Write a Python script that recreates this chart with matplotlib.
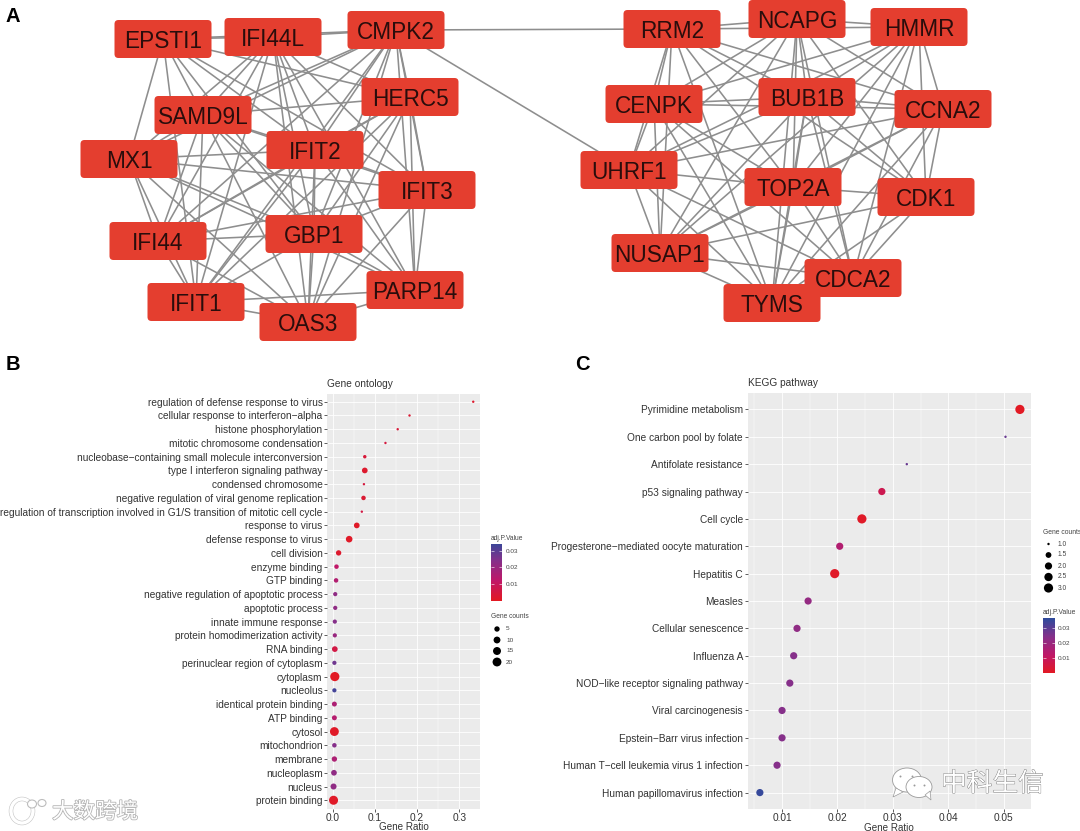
"""Three-panel figure: PPI networks (A), GO dot plot (B), KEGG dot plot (C)."""
from itertools import combinations

import matplotlib

matplotlib.use("Agg")
import matplotlib.pyplot as plt
import numpy as np
from matplotlib.colors import LinearSegmentedColormap
from matplotlib.patches import Ellipse, FancyBboxPatch, Polygon
import matplotlib.patheffects as pe

plt.rcParams["font.family"] = ["Liberation Sans", "DejaVu Sans"]

W, H = 1080, 831

# ---- Panel A: node names and where they sit in the picture ----
left_genes = ["EPSTI1", "IFI44L", "CMPK2", "HERC5", "SAMD9L", "MX1", "IFIT2",
              "IFIT3", "IFI44", "GBP1", "PARP14", "IFIT1", "OAS3"]
left_x = [163, 273, 396, 410, 203, 129, 315, 427, 158, 314, 415, 196, 308]
left_y = [39, 37, 30, 97, 115, 159, 150, 190, 241, 234, 290, 302, 322]

right_genes = ["RRM2", "NCAPG", "HMMR", "CENPK", "BUB1B", "CCNA2", "UHRF1",
               "TOP2A", "CDK1", "NUSAP1", "CDCA2", "TYMS"]
right_x = [672, 797, 919, 654, 807, 943, 629, 793, 926, 660, 853, 772]
right_y = [29, 19, 27, 104, 97, 109, 170, 187, 197, 253, 278, 303]

bridge_edges = [("CMPK2", "RRM2"), ("CMPK2", "UHRF1")]
missing_edges = [("EPSTI1", "OAS3"), ("EPSTI1", "PARP14"), ("EPSTI1", "IFI44"),
                 ("MX1", "HERC5"), ("IFI44", "PARP14"), ("IFIT1", "IFIT3"),
                 ("RRM2", "CDCA2"), ("UHRF1", "CDK1"), ("CENPK", "CDK1")]

# ---- Panel B: gene ontology ----
go_terms = [
    "regulation of defense response to virus",
    "cellular response to interferon\u2212alpha",
    "histone phosphorylation",
    "mitotic chromosome condensation",
    "nucleobase\u2212containing small molecule interconversion",
    "type I interferon signaling pathway",
    "condensed chromosome",
    "negative regulation of viral genome replication",
    "regulation of transcription involved in G1/S transition of mitotic cell cycle",
    "response to virus",
    "defense response to virus",
    "cell division",
    "enzyme binding",
    "GTP binding",
    "negative regulation of apoptotic process",
    "apoptotic process",
    "innate immune response",
    "protein homodimerization activity",
    "RNA binding",
    "perinuclear region of cytoplasm",
    "cytoplasm",
    "nucleolus",
    "identical protein binding",
    "ATP binding",
    "cytosol",
    "mitochondrion",
    "membrane",
    "nucleoplasm",
    "nucleus",
    "protein binding",
]
go_ratio = [0.333, 0.182, 0.154, 0.125, 0.076, 0.076, 0.074, 0.073, 0.069, 0.057,
            0.039, 0.014, 0.009, 0.008, 0.006, 0.006, 0.005, 0.005, 0.005, 0.004,
            0.005, 0.004, 0.004, 0.004, 0.004, 0.004, 0.004, 0.003, 0.002, 0.002]
go_counts = [1, 1, 1, 1, 1.5, 6, 1, 3, 1, 6,
             9, 5, 3, 3, 2.5, 2.5, 2.5, 2.5, 6, 2.5,
             22, 2.5, 4, 4, 20, 3, 5, 6, 7, 21]
go_padj = [0.002, 0.003, 0.004, 0.005, 0.004, 0.002, 0.005, 0.003, 0.006, 0.001,
           0.001, 0.002, 0.012, 0.015, 0.022, 0.022, 0.024, 0.020, 0.006, 0.027,
           0.0005, 0.033, 0.016, 0.014, 0.001, 0.024, 0.016, 0.022, 0.022, 0.001]
go_ticks = [0.0, 0.1, 0.2, 0.3]
go_minor = [0.05, 0.15, 0.25, 0.35]

# ---- Panel C: KEGG ----
kegg_terms = [
    "Pyrimidine metabolism",
    "One carbon pool by folate",
    "Antifolate resistance",
    "p53 signaling pathway",
    "Cell cycle",
    "Progesterone\u2212mediated oocyte maturation",
    "Hepatitis C",
    "Measles",
    "Cellular senescence",
    "Influenza A",
    "NOD\u2212like receptor signaling pathway",
    "Viral carcinogenesis",
    "Epstein\u2212Barr virus infection",
    "Human T\u2212cell leukemia virus 1 infection",
    "Human papillomavirus infection",
]
kegg_ratio = [0.0529, 0.0503, 0.0325, 0.0280, 0.0244, 0.0204, 0.0195, 0.0147,
              0.0127, 0.0121, 0.0114, 0.0100, 0.0100, 0.0091, 0.0060]
kegg_counts = [3, 1, 1, 2, 3, 2, 3, 2, 2, 2, 2, 2, 2, 2, 2]
kegg_padj = [0.0005, 0.028, 0.028, 0.008, 0.001, 0.015, 0.001, 0.021,
             0.022, 0.024, 0.024, 0.024, 0.024, 0.024, 0.035]
kegg_ticks = [0.01, 0.02, 0.03, 0.04, 0.05]
kegg_minor = [0.005, 0.015, 0.025, 0.035, 0.045, 0.055]

# ---- Legends ----
go_legend_counts = [5, 10, 15, 20]
kegg_legend_counts = [1.0, 1.5, 2.0, 2.5, 3.0]
go_cbar_ticks = [0.01, 0.02, 0.03]
kegg_cbar_ticks = [0.01, 0.02, 0.03]

padj_cmap = LinearSegmentedColormap.from_list(
    "padj", ["#E31A22", "#C01868", "#86308A", "#2F4B9C"]
)
PADJ_MAX = 0.036


def axes_px(fig, x0, y0, x1, y1):
    return fig.add_axes([x0 / W, 1 - y1 / H, (x1 - x0) / W, (y1 - y0) / H])


def dot_area(counts, top):
    # ggplot style area scale, pixel diameters turned into points^2
    counts = np.asarray(counts, dtype=float)
    diameter = 2.4 + 6.8 * np.sqrt((counts - 1) / (top - 1))
    return (diameter * 0.72) ** 2


def dot_panel(fig, box, terms, ratio, counts, padj, ticks, minor, xlim, top, title):
    ax = axes_px(fig, *box)
    ax.set_facecolor("#EBEBEB")
    y = np.arange(len(terms))[::-1]
    ax.scatter(ratio, y, s=dot_area(counts, top), c=padj, cmap=padj_cmap,
               vmin=0, vmax=PADJ_MAX, linewidths=0, zorder=3)
    ax.set_xlim(*xlim)
    ax.set_ylim(-0.6, len(terms) - 0.4)
    ax.set_yticks(y)
    ax.set_yticklabels(terms)
    ax.set_xticks(ticks)
    ax.set_xticklabels([f"{t:g}" if t else "0.0" for t in ticks])
    ax.set_xticks([m for m in minor if xlim[0] < m < xlim[1]], minor=True)
    ax.grid(True, which="major", color="white", linewidth=0.6, zorder=1)
    ax.grid(True, which="minor", axis="x", color="white", linewidth=0.3, zorder=1)
    ax.tick_params(axis="both", which="major", length=2, width=0.6, color="#444444",
                   labelcolor="#333333", labelsize=7.3, pad=1.2)
    ax.tick_params(axis="x", which="minor", length=0)
    for spine in ax.spines.values():
        spine.set_visible(False)
    ax.set_axisbelow(True)
    ax.set_xlabel("Gene Ratio", fontsize=7.1, color="#333333", labelpad=0)
    ax.xaxis.set_label_coords(0.5, -0.0325)
    ax.set_title(title, loc="left", fontsize=7.3, color="#333333", pad=5)
    return ax


def colorbar_px(fig, box, vmin, vmax, ticks):
    ax = axes_px(fig, *box)
    gradient = np.linspace(vmin, vmax, 200)[:, None]
    ax.imshow(gradient, origin="lower", aspect="auto", cmap=padj_cmap, vmin=0,
              vmax=PADJ_MAX, extent=[0, 1, vmin, vmax])
    ax.set_xticks([])
    ax.set_yticks(ticks)
    ax.set_yticklabels([f"{t:g}" for t in ticks])
    ax.yaxis.tick_right()
    ax.tick_params(axis="y", direction="in", left=True, right=True, length=2,
                   width=0.4, color="white", labelsize=4.6, labelcolor="#444444", pad=2.5)
    for spine in ax.spines.values():
        spine.set_visible(False)
    return ax


def draw_network(ax, genes, xs, ys):
    pos = dict(zip(genes, zip(xs, ys)))
    for a, b in combinations(genes, 2):
        if (a, b) in missing_edges or (b, a) in missing_edges:
            continue
        ax.plot([pos[a][0], pos[b][0]], [pos[a][1], pos[b][1]], color="#8E8E8E",
                lw=1.15, solid_capstyle="round", zorder=2)
    return pos


def draw_nodes(ax, pos):
    box_w, box_h = 97, 38
    for gene, (x, y) in pos.items():
        ax.add_patch(FancyBboxPatch((x - box_w / 2 + 4, y - box_h / 2 + 4), box_w - 8, box_h - 8,
                                    boxstyle="round,pad=4,rounding_size=4",
                                    fc="#E43E2F", ec="none", zorder=3))
        ax.text(x, y, gene, ha="center", va="center_baseline", fontsize=16.3,
                color="#2A0D0C", zorder=4)


def main():
    fig = plt.figure(figsize=(W / 100, H / 100), dpi=100, facecolor="white")

    dot_panel(fig, (327, 393.5, 480, 808.5), go_terms, go_ratio, go_counts, go_padj,
              go_ticks, go_minor, (-0.0135, 0.349), 22, "Gene ontology")
    dot_panel(fig, (747.5, 393, 1031, 809), kegg_terms, kegg_ratio, kegg_counts, kegg_padj,
              kegg_ticks, kegg_minor, (0.00377, 0.0549), 3, "KEGG pathway")

    colorbar_px(fig, (491, 544, 502, 601), 0.0, 0.034, go_cbar_ticks)
    colorbar_px(fig, (1043, 618, 1054.5, 673), 0.0004, 0.0363, kegg_cbar_ticks)

    # Full figure overlay in pixel units for the network, legends and watermarks
    over = fig.add_axes([0, 0, 1, 1], zorder=5)
    over.set_xlim(0, W)
    over.set_ylim(H, 0)
    over.axis("off")
    over.patch.set_alpha(0)

    left_pos = draw_network(over, left_genes, left_x, left_y)
    right_pos = draw_network(over, right_genes, right_x, right_y)
    all_pos = {**left_pos, **right_pos}
    for a, b in bridge_edges:
        over.plot([all_pos[a][0], all_pos[b][0]], [all_pos[a][1], all_pos[b][1]],
                  color="#8E8E8E", lw=1.15, zorder=2)
    draw_nodes(over, all_pos)

    for letter, x, y in [("A", 6, 17), ("B", 6, 365), ("C", 575, 365)]:
        over.text(x, y, letter, fontsize=14.5, fontweight="bold", color="black",
                  ha="left", va="center")

    # Gene count legends
    over.text(491, 617, "Gene counts", fontsize=4.8, color="#444444", ha="left", va="center")
    legend_y = 629 + 11 * np.arange(len(go_legend_counts))
    over.scatter([497] * len(go_legend_counts), legend_y, c="black", linewidths=0,
                 s=dot_area(go_legend_counts, 22))
    for c, y in zip(go_legend_counts, legend_y):
        over.text(506, y, f"{c}", fontsize=4.6, color="#444444", va="center")
    over.text(491, 538, "adj.P.Value", fontsize=4.8, color="#444444", ha="left", va="center")

    over.text(1043, 532, "Gene counts", fontsize=4.9, color="#444444", ha="left", va="center")
    legend_y = 544 + 11 * np.arange(len(kegg_legend_counts))
    over.scatter([1048.5] * len(kegg_legend_counts), legend_y, c="black", linewidths=0,
                 s=dot_area(kegg_legend_counts, 3))
    for c, y in zip(kegg_legend_counts, legend_y):
        over.text(1058, y, f"{c:.1f}", fontsize=4.8, color="#444444", va="center")
    over.text(1043, 612, "adj.P.Value", fontsize=4.9, color="#444444", ha="left", va="center")

    # Watermarks
    cjk = ["Noto Sans CJK SC", "DejaVu Sans"]
    over.text(52, 812, "大数跨境", family=cjk, fontsize=15.5, color="white", ha="left",
              va="center", zorder=6,
              path_effects=[pe.withStroke(linewidth=1.2, foreground="#B5B5B5")])
    over.text(941, 784, "中科生信", family=cjk, fontsize=18.5, color="white", ha="left",
              va="center", zorder=6, fontweight="light",
              path_effects=[pe.withStroke(linewidth=0.6, foreground="#777777")])
    for (cx, cy, ew, eh) in [(907, 780, 29, 24), (919, 787, 26, 21)]:
        over.add_patch(Ellipse((cx, cy), ew, eh, fc="white", ec="#9A9A9A", lw=0.6, zorder=6))
    over.add_patch(Polygon([[896, 788], [893, 797], [903, 792]], fc="white", ec="#9A9A9A",
                           lw=0.5, zorder=6))
    over.add_patch(Polygon([[925, 795], [931, 800], [930, 791]], fc="white", ec="#9A9A9A",
                           lw=0.5, zorder=6))
    over.scatter([900, 912, 914, 924], [776, 776, 785, 785], s=2, c="#9A9A9A", linewidths=0, zorder=7)
    # the little logo left of the first watermark
    over.add_patch(Ellipse((22, 811), 22, 24, fc="none", ec="white", lw=2.4, zorder=6,
                           path_effects=[pe.withStroke(linewidth=3.2, foreground="#C4C4C4")]))
    over.add_patch(Ellipse((32, 804), 9, 8, fc="white", ec="#BDBDBD", lw=0.8, zorder=7))
    over.add_patch(Ellipse((42, 803), 8, 7, fc="white", ec="#BDBDBD", lw=0.8, zorder=7))

    fig.savefig("out.png", dpi=100, facecolor="white")


if __name__ == "__main__":
    main()
